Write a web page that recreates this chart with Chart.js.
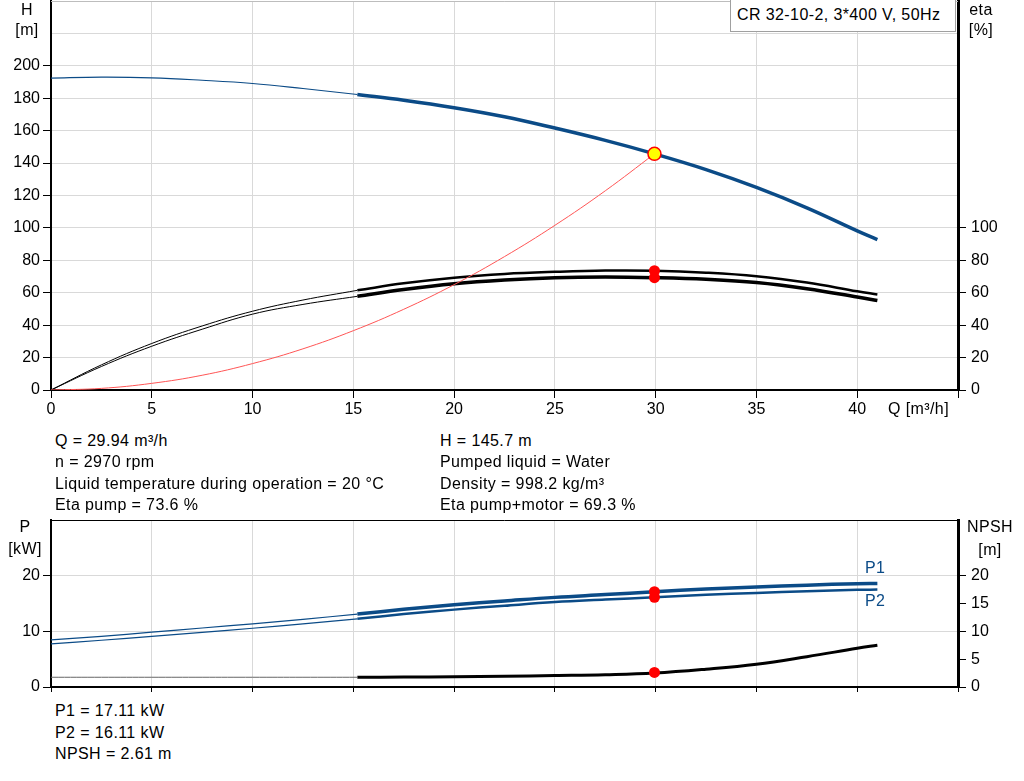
<!DOCTYPE html>
<html>
<head>
<meta charset="utf-8">
<script src="https://cdn.jsdelivr.net/npm/chart.js@4.4.1/dist/chart.umd.min.js"></script>
<style>
  body { margin: 0; background: #fff; width: 1024px; height: 781px; overflow: hidden; position: relative;
         font-family: "Liberation Sans", Arial, sans-serif; color: #000; }
  canvas { position: absolute; left: 0; }
  .t { position: absolute; font-size: 16px; line-height: 21px; letter-spacing: 0.4px; white-space: nowrap; }
  .c { text-align: center; }
  .blue { color: #0b4b87; }
  #model { position: absolute; left: 730px; top: -1px; width: 226px; height: 33px; border: 1px solid #a0a0a0;
           background: #fff; box-sizing: border-box; }
</style>
</head>
<body>
<canvas id="qhChart" width="1024" height="430" style="top:0"></canvas>
<canvas id="powerChart" width="1024" height="200" style="top:500px"></canvas>

<div id="model"><div class="t" style="left:6px;top:4px">CR 32-10-2, 3*400 V, 50Hz</div></div>
<div class="t c" style="left:7px;width:40px;top:-1px">H</div>
<div class="t c" style="left:7px;width:40px;top:19px">[m]</div>
<div class="t c" style="left:961px;width:40px;top:-1px">eta</div>
<div class="t c" style="left:961px;width:40px;top:19px">[%]</div>
<div class="t" style="left:888px;top:398px">Q [m³/h]</div>

<div class="t" style="left:55px;top:430px">Q = 29.94 m³/h</div>
<div class="t" style="left:55px;top:451px">n = 2970 rpm</div>
<div class="t" style="left:55px;top:473px">Liquid temperature during operation = 20 °C</div>
<div class="t" style="left:55px;top:494px">Eta pump = 73.6 %</div>
<div class="t" style="left:440px;top:430px">H = 145.7 m</div>
<div class="t" style="left:440px;top:451px">Pumped liquid = Water</div>
<div class="t" style="left:440px;top:473px">Density = 998.2 kg/m³</div>
<div class="t" style="left:440px;top:494px">Eta pump+motor = 69.3 %</div>

<div class="t c" style="left:5px;width:40px;top:516px">P</div>
<div class="t c" style="left:5px;width:40px;top:538px">[kW]</div>
<div class="t c" style="left:960px;width:60px;top:516px">NPSH</div>
<div class="t c" style="left:960px;width:60px;top:539px">[m]</div>
<div class="t blue" style="left:865px;top:557px">P1</div>
<div class="t blue" style="left:865px;top:590px">P2</div>

<div class="t" style="left:55px;top:700px">P1 = 17.11 kW</div>
<div class="t" style="left:55px;top:722px">P2 = 16.11 kW</div>
<div class="t" style="left:55px;top:743px">NPSH = 2.61 m</div>

<script>
// flow points (m3/h)
const qFlow = [0, 2.5, 5, 7.5, 10, 12.5, 15.2, 17.5, 20, 22.5, 25, 27.5, 29.94, 32.5, 35, 37.5, 40, 41];
const headH = [192.4, 193.0, 192.6, 191.1, 189.1, 186.0, 182.3, 178.8, 174.2, 168.6, 161.6, 154.0, 145.7, 136.0, 125.0, 112.4, 98.2, 92.8];
const etaPump = [0, 15.5, 28.7, 39.5, 48.6, 55.5, 61.5, 65.8, 69.3, 71.6, 72.9, 73.7, 73.6, 72.4, 70.2, 66.3, 60.9, 58.9];
const etaTotal = [0, 14.5, 27, 37.5, 46.8, 52.8, 57.8, 62, 65.6, 67.9, 69.3, 69.7, 69.3, 68.3, 66.3, 62.5, 57.4, 55.2];
const powerP1 = [8.47, 9.1, 9.85, 10.6, 11.35, 12.15, 13.1, 13.95, 14.77, 15.45, 16.1, 16.6, 17.11, 17.6, 17.96, 18.3, 18.55, 18.6];
const powerP2 = [7.75, 8.4, 9.1, 9.8, 10.55, 11.35, 12.25, 13.1, 13.9, 14.6, 15.25, 15.7, 16.11, 16.55, 16.9, 17.2, 17.45, 17.5];
const npshR = [1.75, 1.75, 1.75, 1.75, 1.75, 1.75, 1.75, 1.78, 1.85, 1.92, 2.05, 2.2, 2.5, 3.2, 4.1, 5.45, 6.95, 7.5];

// system curve
const sysQ = [0, 2.5, 5, 7.5, 10, 12.5, 15, 17.5, 20, 22.5, 25, 27.5, 29.94];
const sysH = [0, 1, 4.1, 9.1, 16.3, 25.4, 36.6, 49.8, 65, 82.3, 101.6, 122.9, 145.7];

// duty point
const dutyQ = 29.94;
const dutyH = 145.7;
const dutyEta = [73.6, 69.3];
const dutyP = [17.11, 16.11];
const dutyNpsh = 2.61;

// axis label limits
const xLabelMax = 40;
const hLabelMax = 200;
const etaLabelMax = 100;
const pLabelMax = 20;
const npshLabelMax = 20;

const BLUE = '#0b4b87';
const GRID = '#d9d9d9';
const FONT = { family: '"Liberation Sans", Arial, sans-serif', size: 16 };
const splitIdx = 6; // curves are thin up to Q = 15.2, thick after

function pts(xs, ys) { return xs.map((x, i) => ({ x: x, y: ys[i] })); }
function thin(ys) { return pts(qFlow, ys).slice(0, splitIdx + 1); }
function thick(ys) { return pts(qFlow, ys).slice(splitIdx); }

function line(data, color, width, axis) {
  return { data: data, yAxisID: axis, showLine: true, borderColor: color, borderWidth: width,
           pointRadius: 0, tension: 0.4, fill: false };
}
function dot(x, y, axis, r, bg, border, bw) {
  return { data: [{ x: x, y: y }], yAxisID: axis, showLine: false, pointRadius: r,
           pointBackgroundColor: bg, pointBorderColor: border, pointBorderWidth: bw };
}

function noPad(s) { s.paddingTop = 0; s.paddingBottom = 0; s.paddingLeft = 0; s.paddingRight = 0; }

// top border of the plot box
const frameTop = {
  id: 'frameTop',
  afterDraw(chart) {
    const a = chart.chartArea, c = chart.ctx;
    c.save();
    c.strokeStyle = chart.options.plugins.frameTop.color;
    c.lineWidth = 1;
    c.beginPath();
    c.moveTo(a.left, a.top + 0.5);
    c.lineTo(a.right, a.top + 0.5);
    c.stroke();
    c.restore();
  }
};

function xScale(height, showLabels, tickLen) {
  return {
    type: 'linear', min: 0, max: 45,
    ticks: { stepSize: 5, color: '#000', font: FONT, padding: 2, maxRotation: 0,
             callback: v => (showLabels && v <= xLabelMax) ? v : '' },
    grid: { color: GRID, tickColor: '#000', tickLength: tickLen },
    border: { color: '#000', width: 2 },
    afterFit: s => { s.height = height; noPad(s); }
  };
}
function yScale(pos, max, step, labelMax, width, onArea, borderW) {
  return {
    type: 'linear', position: pos, min: 0, max: max,
    ticks: { stepSize: step, color: '#000', font: FONT, padding: pos === 'left' ? 3 : 5,
             callback: v => v <= labelMax ? v : '' },
    grid: { color: GRID, drawOnChartArea: onArea, tickLength: 8,
            tickColor: ctx => (ctx.tick && ctx.tick.value <= labelMax) ? '#000' : 'rgba(0,0,0,0)' },
    border: { color: '#000', width: borderW },
    afterFit: s => { s.width = width; noPad(s); }
  };
}

window.addEventListener('load', () => {
  new Chart(document.getElementById('qhChart').getContext('2d'), {
    type: 'scatter',
    data: {
      datasets: [
        dot(dutyQ, dutyH, 'y', 6.5, '#ffff00', '#ff0000', 1.5),
        dot(dutyQ, dutyEta[0], 'eta', 5.5, '#ff0000', '#ff0000', 0),
        dot(dutyQ, dutyEta[1], 'eta', 5.5, '#ff0000', '#ff0000', 0),
        line(pts(sysQ, sysH), '#ff5555', 1, 'y'),
        line(thin(headH), BLUE, 1.2, 'y'),
        line(thick(headH), BLUE, 3.5, 'y'),
        line(thin(etaPump), '#000', 1, 'eta'),
        line(thick(etaPump), '#000', 2.5, 'eta'),
        line(thin(etaTotal), '#000', 1, 'eta'),
        line(thick(etaTotal), '#000', 3.5, 'eta')
      ]
    },
    options: {
      responsive: false, animation: false, devicePixelRatio: 1,
      layout: { autoPadding: false, padding: { top: 1, left: 0, right: 0, bottom: 0 } },
      plugins: { legend: { display: false }, tooltip: { enabled: false }, frameTop: { color: '#bdbdbd' } },
      scales: {
        x: xScale(40, true, 8),
        y: yScale('left', 240, 20, hLabelMax, 51, true, 2),
        eta: yScale('right', 240, 20, etaLabelMax, 66, false, 3)
      }
    },
    plugins: [frameTop]
  });

  new Chart(document.getElementById('powerChart').getContext('2d'), {
    type: 'scatter',
    data: {
      datasets: [
        dot(dutyQ, dutyP[0], 'y', 5.5, '#ff0000', '#ff0000', 0),
        dot(dutyQ, dutyP[1], 'y', 5.5, '#ff0000', '#ff0000', 0),
        dot(dutyQ, dutyNpsh, 'npsh', 5.5, '#ff0000', '#ff0000', 0),
        line(thin(powerP1), BLUE, 1.2, 'y'),
        line(thick(powerP1), BLUE, 3.5, 'y'),
        line(thin(powerP2), BLUE, 1.2, 'y'),
        line(thick(powerP2), BLUE, 2.5, 'y'),
        line(thin(npshR), '#666', 1, 'npsh'),
        line(thick(npshR), '#000', 3, 'npsh')
      ]
    },
    options: {
      responsive: false, animation: false, devicePixelRatio: 1,
      layout: { autoPadding: false, padding: { top: 20, left: 0, right: 0, bottom: 0 } },
      plugins: { legend: { display: false }, tooltip: { enabled: false }, frameTop: { color: '#000' } },
      scales: {
        x: xScale(13, false, 5),
        y: yScale('left', 30, 10, pLabelMax, 51, true, 2),
        npsh: yScale('right', 30, 5, npshLabelMax, 66, false, 3)
      }
    },
    plugins: [frameTop]
  });
});
</script>
</body>
</html>
